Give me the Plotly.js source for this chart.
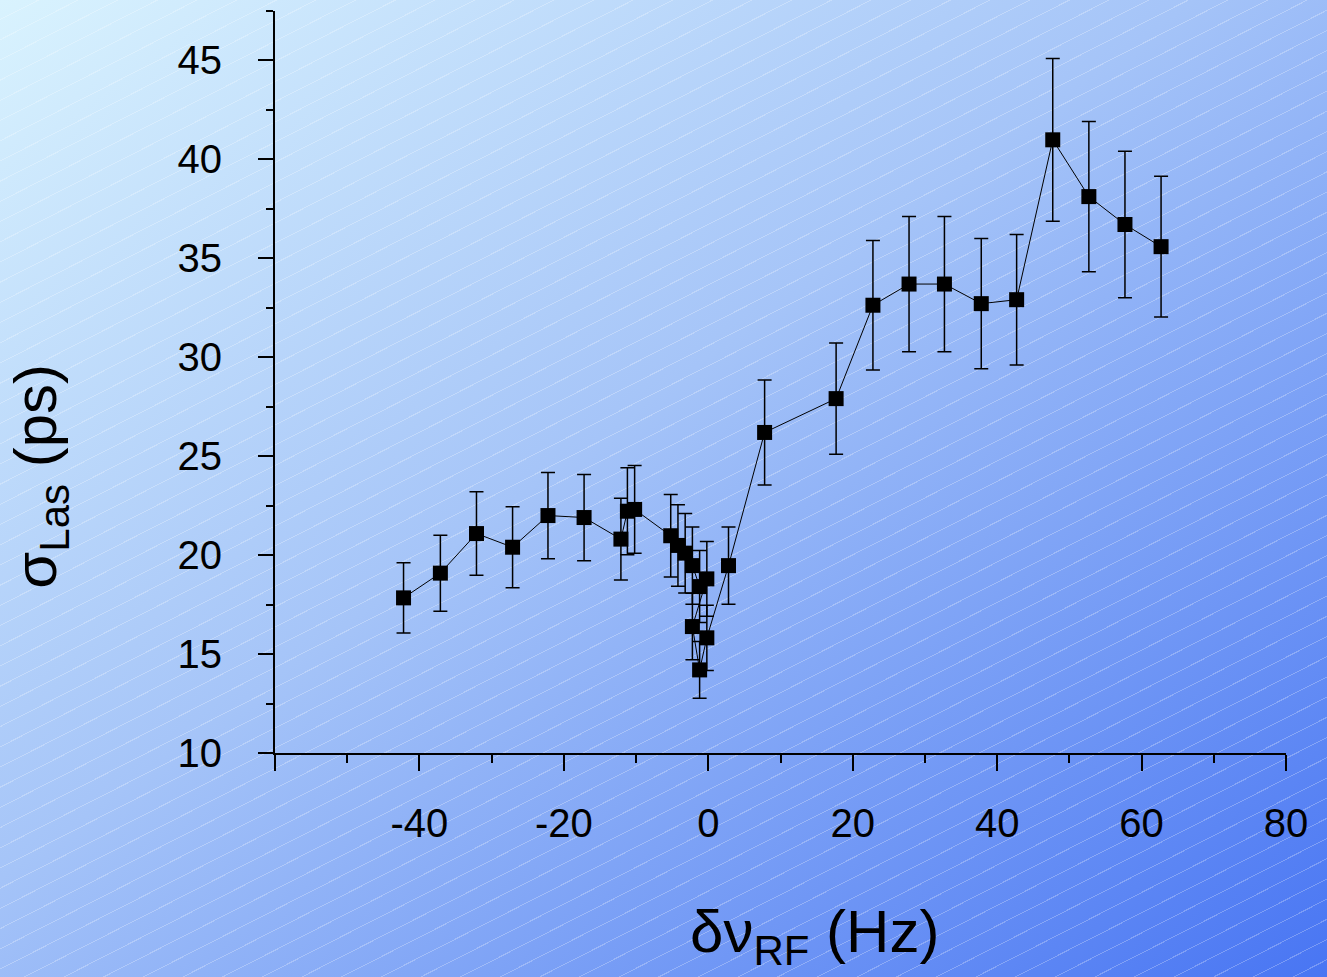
<!DOCTYPE html>
<html>
<head>
<meta charset="utf-8">
<script src="https://cdn.plot.ly/plotly-3.0.1.min.js"></script>
<style>
  html, body { margin: 0; padding: 0; }
  body {
    width: 1327px; height: 977px; overflow: hidden;
    background:
      repeating-linear-gradient(153deg, rgba(255,255,255,0) 0px, rgba(255,255,255,0) 17px, rgba(255,255,255,0.25) 17px, rgba(255,255,255,0.25) 18px),
      linear-gradient(to bottom right, #d9f3fe 0%, #a5c4f8 45%, #4875f3 100%);
  }
  #chart { width: 1327px; height: 977px; }
</style>
</head>
<body>
<div id="chart"></div>
<script>
// Detuning of RF (Hz)
const detuning = [-42.2, -37.1, -32.1, -27.1, -22.2, -17.2, -12.1, -11.2, -10.2, -5.2,
                  -4.2, -3.2, -2.2, -1.2, -0.2, -2.2, -1.2, -0.2, 2.8, 7.8,
                  17.7, 22.8, 27.8, 32.7, 37.8, 42.7, 47.7, 52.7, 57.7, 62.7];
// Laser jitter sigma (ps)
const sigmaLas = [17.84, 19.09, 21.09, 20.40, 22.00, 21.90, 20.81, 22.22, 22.31, 20.98,
                  20.49, 20.10, 19.47, 18.41, 18.80, 16.39, 14.20, 15.82, 19.47, 26.20,
                  27.91, 32.63, 33.70, 33.70, 32.71, 32.91, 40.99, 38.12, 36.71, 35.59];
// Error bar half-lengths (ps)
const sigmaErr = [1.77, 1.92, 2.11, 2.05, 2.18, 2.18, 2.07, 2.20, 2.22, 2.08,
                  2.06, 2.01, 1.95, 1.82, 1.89, 1.68, 1.43, 1.65, 1.95, 2.65,
                  2.81, 3.27, 3.42, 3.42, 3.29, 3.30, 4.11, 3.80, 3.70, 3.56];

const xTickVals = [-60, -40, -20, 0, 20, 40, 60, 80];
const xTickText = ['', '-40', '-20', '0', '20', '40', '60', '80'];
const yTickVals = [10, 15, 20, 25, 30, 35, 40, 45];
const yTickText = ['10', '15', '20', '25', '30', '35', '40', '45'];

const FONT = '"Liberation Sans", Arial, Helvetica, sans-serif';

const trace = {
  x: detuning,
  y: sigmaLas,
  type: 'scatter',
  mode: 'lines+markers',
  line: { color: '#000000', width: 1 },
  marker: { symbol: 'square', size: 15, color: '#000000' },
  error_y: { type: 'data', array: sigmaErr, visible: true, color: '#000000', thickness: 1.5, width: 7 },
  hoverinfo: 'x+y'
};

const layout = {
  width: 1327,
  height: 977,
  margin: { l: 275, r: 41, t: 11, b: 224 },
  paper_bgcolor: 'rgba(0,0,0,0)',
  plot_bgcolor: 'rgba(0,0,0,0)',
  showlegend: false,
  font: { family: FONT, color: '#000000', size: 40 },
  xaxis: {
    range: [-60, 80],
    tickmode: 'array',
    tickvals: xTickVals,
    ticktext: xTickText,
    ticks: 'outside',
    ticklen: 16,
    tickwidth: 2,
    tickcolor: '#000000',
    ticklabelstandoff: 18,
    minor: { dtick: 10, tick0: -60, ticks: 'outside', ticklen: 8, tickwidth: 2, tickcolor: '#000000', showgrid: false },
    showline: true,
    linecolor: '#000000',
    linewidth: 2,
    showgrid: false,
    zeroline: false,
    tickfont: { family: FONT, size: 40, color: '#000000' },
    fixedrange: true
  },
  yaxis: {
    range: [10, 47.5],
    tickmode: 'array',
    tickvals: yTickVals,
    ticktext: yTickText,
    ticks: 'outside',
    ticklen: 15,
    tickwidth: 2,
    tickcolor: '#000000',
    ticklabelstandoff: 28,
    minor: { dtick: 2.5, tick0: 10, ticks: 'outside', ticklen: 7, tickwidth: 2, tickcolor: '#000000', showgrid: false },
    showline: true,
    linecolor: '#000000',
    linewidth: 2,
    showgrid: false,
    zeroline: false,
    tickfont: { family: FONT, size: 40, color: '#000000' },
    fixedrange: true
  },
  annotations: [
    {
      text: 'δν<sub>RF</sub> (Hz)',
      xref: 'paper', yref: 'paper',
      x: 0.534, y: -0.247,
      xanchor: 'center', yanchor: 'middle',
      showarrow: false,
      font: { family: FONT, size: 60, color: '#000000' }
    },
    {
      text: 'σ<sub>Las</sub> (ps)',
      xref: 'paper', yref: 'paper',
      x: -0.232, y: 0.373,
      xanchor: 'center', yanchor: 'middle',
      textangle: -90,
      showarrow: false,
      font: { family: FONT, size: 60, color: '#000000' }
    }
  ]
};

Plotly.newPlot('chart', [trace], layout, { displayModeBar: false });
</script>
</body>
</html>
